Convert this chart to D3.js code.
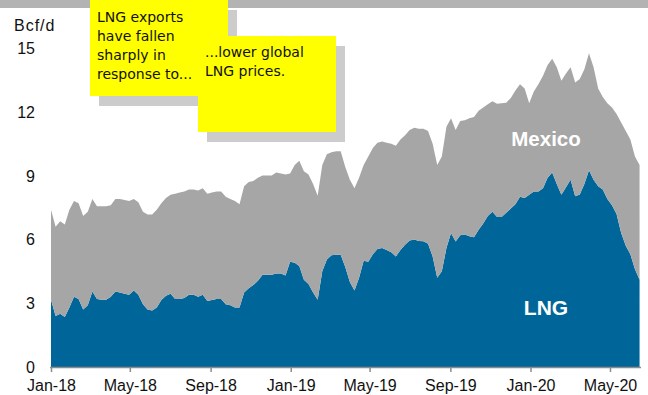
<!DOCTYPE html>
<html><head><meta charset="utf-8">
<script src="https://cdn.jsdelivr.net/npm/d3@7"></script>
<style>
html,body{margin:0;padding:0;background:#fff;}
svg{display:block;}
</style></head>
<body><svg id="c" width="648" height="395"></svg>
<script>
// Weekly observations starting 2018-01-01 (Bcf/d)
const startDate = "2018-01-01";
const lng = [3.16,2.4,2.5,2.35,2.8,3.3,3.2,2.7,2.9,3.55,3.2,3.16,3.16,3.3,3.55,3.5,3.45,3.4,3.6,3.4,
2.95,2.7,2.66,2.8,3.15,3.35,3.45,3.2,3.2,3.25,3.4,3.4,3.3,3.4,3.1,3.15,3.2,3.2,2.95,2.9,
2.8,2.8,3.5,3.7,3.85,4.05,4.34,4.34,4.34,4.4,4.4,4.3,4.95,4.9,4.75,4.1,3.9,3.5,3.16,4.5,
5.05,5.25,5.28,5.28,4.7,4.0,3.6,4.2,5.0,4.95,5.3,5.55,5.6,5.5,5.4,5.2,5.5,5.75,5.95,6.0,
5.92,5.91,5.8,5.2,4.2,4.5,5.6,6.3,5.9,6.2,6.23,6.15,6.1,6.45,6.75,7.1,7.3,7.05,7.05,7.25,
7.45,7.65,8.0,7.95,8.1,8.25,8.25,8.4,8.9,9.15,8.6,8.1,8.45,8.8,8.03,8.11,8.6,9.25,8.8,8.5,
8.35,7.9,7.6,7.2,6.3,5.7,5.3,4.6,4.1];
const mexico = [4.24,4.2,4.35,4.35,4.6,4.5,4.5,4.4,4.4,4.35,4.36,4.4,4.4,4.3,4.35,4.4,4.4,4.4,4.3,4.35,
4.35,4.47,4.51,4.6,4.55,4.6,4.65,4.95,5.0,5.0,4.95,4.95,5.0,5.0,5.05,5.05,5.05,5.05,5.05,5.0,
5.0,4.85,5.0,5.0,4.9,4.85,4.66,4.66,4.66,4.75,4.7,4.75,4.15,4.6,4.95,5.1,5.15,5.1,4.89,5.0,
4.95,4.85,4.87,4.87,4.7,4.8,4.8,4.7,4.5,4.95,5.0,5.0,5.0,5.05,5.1,5.2,5.2,5.15,5.2,5.25,
5.28,5.29,5.3,5.3,5.3,5.4,5.7,5.4,5.25,5.37,5.37,5.55,5.65,5.6,5.45,5.25,5.2,5.33,5.35,5.18,
5.2,5.35,5.3,5.15,4.3,4.7,5.05,5.3,5.3,5.35,5.5,5.36,5.35,5.3,5.35,5.43,5.4,5.5,5.3,4.6,
4.35,4.5,4.6,4.7,5.2,5.4,5.4,5.3,5.4];
const tickDates = ["2018-01-01","2018-05-01","2018-09-01","2019-01-01","2019-05-01","2019-09-01","2020-01-01","2020-05-01"];
const tickLabels = ["Jan-18","May-18","Sep-18","Jan-19","May-19","Sep-19","Jan-20","May-20"];
const yTicks = [0,3,6,9,12,15];
const seriesKeys = ["LNG","Mexico"];
const seriesColors = ["#006699","#a6a6a6"];
const note1 = ["LNG exports","have fallen","sharply in","response to..."];
const note2 = ["...lower global","LNG prices."];

const parse = d3.utcParse("%Y-%m-%d");
const t0 = parse(startDate);
const rows = lng.map((v,i)=>({date:d3.utcDay.offset(t0,7*i), LNG:v, Mexico:mexico[i]}));

const svg = d3.select("#c");
const x = d3.scaleUtc().domain([parse("2018-01-01"), parse("2020-05-01")]).range([51,610]);
const y = d3.scaleLinear().domain([0,15]).range([367,48]);
const AX = "Liberation Sans, Arial, sans-serif";

const stack = d3.stack().keys(seriesKeys)(rows);
const area = d3.area().x(d=>x(d.data.date)).y0(d=>y(d[0])).y1(d=>y(d[1])).curve(d3.curveLinear);
svg.append("g").selectAll("path").data(stack).join("path")
  .attr("d",area).attr("fill",(d,i)=>seriesColors[i]);

// top band
svg.append("rect").attr("x",0).attr("y",0).attr("width",648).attr("height",8).attr("fill","#b3b3b3");

// x axis
const xAxis = d3.axisBottom(x).tickValues(tickDates.map(parse)).tickFormat((d,i)=>tickLabels[i]).tickSize(5);
const gx = svg.append("g").attr("transform","translate(0,367)").call(xAxis);
gx.select(".domain").attr("d","M50,0.5H641").attr("stroke","#8c8c8c").attr("stroke-width",1.5);
gx.selectAll(".tick line").attr("stroke","#8c8c8c").attr("stroke-width",1.5);
gx.selectAll("text").attr("font-family",AX).attr("font-size",16).attr("fill","#111")
  .attr("y",24).attr("dy",0);

// y labels
const gy = svg.append("g");
gy.selectAll("text").data(yTicks).join("text")
  .attr("x",35).attr("y",d=>y(d)+6).attr("text-anchor","end")
  .attr("font-family",AX).attr("font-size",16).attr("fill","#111")
  .text(d=>d);
svg.append("text").attr("x",14).attr("y",31).attr("font-family",AX)
  .attr("font-size",16).attr("letter-spacing",1).attr("fill","#111").text("Bcf/d");

// series labels
svg.append("text").attr("x",546).attr("y",146).attr("text-anchor","middle")
  .attr("font-family",AX).attr("font-weight","bold").attr("font-size",20.5)
  .attr("fill","#fff").text("Mexico");
svg.append("text").attr("x",546).attr("y",315).attr("text-anchor","middle")
  .attr("font-family",AX).attr("font-weight","bold").attr("font-size",21)
  .attr("fill","#fff").text("LNG");

// notes
function note(x0,y0,w,h,lines,tx,ty){
  svg.append("rect").attr("x",x0+9).attr("y",y0+10).attr("width",w).attr("height",h).attr("fill","#cccccc");
  svg.append("rect").attr("x",x0).attr("y",y0).attr("width",w).attr("height",h).attr("fill","#ffff00");
  svg.append("g").selectAll("text").data(lines).join("text")
    .attr("x",tx).attr("y",(d,i)=>ty+i*19)
    .attr("font-family","DejaVu Sans, sans-serif").attr("font-size",14).attr("fill","#111")
    .text(d=>d);
}
note(90,0,138,96,note1,97,22);
note(198,36,138,96,note2,205,57);
</script></body></html>
